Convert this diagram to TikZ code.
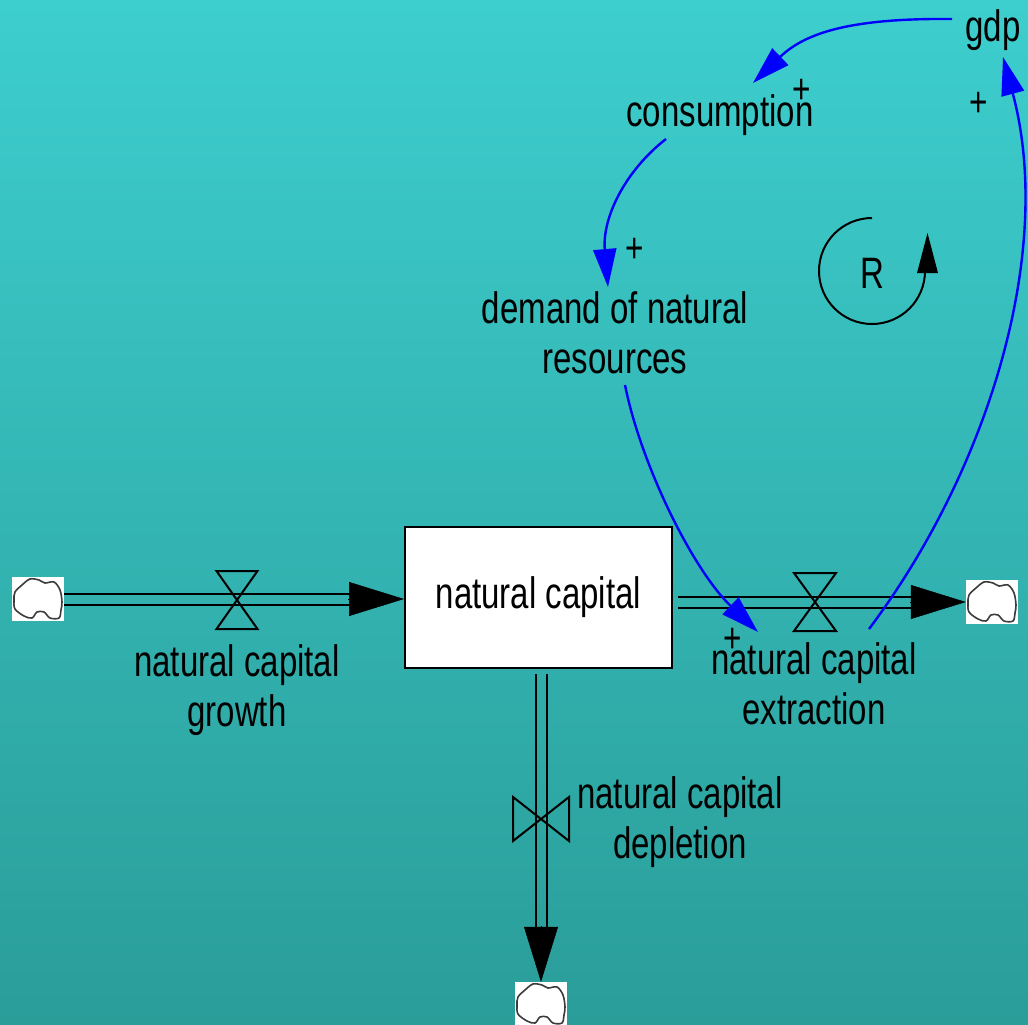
\documentclass[tikz,border=0pt]{standalone}
\usepackage{fontspec}
\setmainfont[FakeStretch=0.75]{Liberation Sans}
\usetikzlibrary{arrows.meta}
\definecolor{bgtop}{RGB}{61,206,206}
\definecolor{bgbot}{RGB}{42,157,153}
\definecolor{linkblue}{RGB}{0,0,255}
\definecolor{cloudline}{RGB}{60,60,60}
\begin{document}
\begin{tikzpicture}[x=1pt,y=-1pt,
  every node/.style={font=\fontsize{44}{50}\selectfont, inner sep=0pt},
  varlabel/.style={align=center, anchor=base},
  signlabel/.style={font=\fontsize{42}{42}\selectfont},
  link/.style={draw=linkblue, line width=2.4pt, -{Triangle[length=38pt,width=23pt]}},
  pipe/.style={draw=black, line width=2pt},
  flowtip/.style={-{Triangle[length=55pt,width=34pt]}, line width=0.5pt},
  valveline/.style={draw=black, line width=2pt, line join=miter},
  stockbox/.style={draw=black, fill=white, line width=2pt, minimum width=267pt, minimum height=141pt},
  cloudbox/.style={fill=white, minimum width=52pt, minimum height=44pt},
  vcloud/.pic={\draw[cloudline, line width=1.6pt] plot[smooth cycle, tension=0.55] coordinates {(-23,-7) (-16,-14) (-8,-20) (1,-19) (7,-16) (16,-17) (22,-9) (24,3) (23,11) (21,19) (12,19) (6,13) (-1,13) (-6,19) (-14,17) (-23,10) (-24,1)};}
]
\useasboundingbox (0,0) rectangle (1028,1025);
\shade[top color=bgtop, bottom color=bgbot] (0,0) rectangle (1028,1025);

% stock
\node[stockbox] (stock) at (538.5,597.5) {natural capital};

% clouds
\node[cloudbox] (cL) at (38,599) {};
\pic at (cL) {vcloud};
\node[cloudbox] (cR) at (992,602) {};
\pic at (cR) {vcloud};
\node[cloudbox] (cD) at (541,1004) {};
\pic at (cD) {vcloud};

% pipe end coordinates
\coordinate (lEnd) at (cL.east -| stock.west);
\coordinate (rStart) at (stock.east |- cR.west);
\coordinate (dStart) at (stock.south -| cD.north);

% flows (double pipes drawn as two parallel lines)
\draw[pipe, shorten >=53pt] ([yshift=5.5pt]cL.east) -- ([yshift=5.5pt]lEnd);
\draw[pipe, shorten >=53pt] ([yshift=-5.5pt]cL.east) -- ([yshift=-5.5pt]lEnd);
\draw[flowtip] ([xshift=-56pt]lEnd) -- (lEnd);
\draw[pipe, shorten <=5pt, shorten >=53pt] ([yshift=5.5pt]rStart) -- ([yshift=5.5pt]cR.west);
\draw[pipe, shorten <=5pt, shorten >=53pt] ([yshift=-5.5pt]rStart) -- ([yshift=-5.5pt]cR.west);
\draw[flowtip] ([xshift=-56pt]cR.west) -- (cR.west);
\draw[pipe, shorten <=5pt, shorten >=53pt] ([xshift=-5.5pt]dStart) -- ([xshift=-5.5pt]cD.north);
\draw[pipe, shorten <=5pt, shorten >=53pt] ([xshift=5.5pt]dStart) -- ([xshift=5.5pt]cD.north);
\draw[flowtip] ([yshift=56pt]cD.north) -- (cD.north);

% valves
\coordinate (vG) at (237,600);
\coordinate (vE) at (815,602);
\coordinate (vD) at (541,819);
\draw[valveline] ([shift={(-20.5,-29)}]vG) -- ([shift={(20.5,-29)}]vG) -- ([shift={(-20.5,29)}]vG) -- ([shift={(20.5,29)}]vG) -- cycle;
\draw[valveline] ([shift={(-21,-29)}]vE) -- ([shift={(21,-29)}]vE) -- ([shift={(-21,29)}]vE) -- ([shift={(21,29)}]vE) -- cycle;
\draw[valveline] ([shift={(-28,-22)}]vD) -- ([shift={(-28,22)}]vD) -- ([shift={(28,-22)}]vD) -- ([shift={(28,22)}]vD) -- cycle;

% flow labels (base anchor = baseline of last line)
\node[varlabel] (growth) at (237,726) {natural capital\\growth};
\node[varlabel] (extraction) at (814,724) {natural capital\\extraction};
\node[varlabel] (depletion) at (680,858) {natural capital\\depletion};

% auxiliaries
\node[varlabel] (gdp) at (993,42) {gdp};
\node[varlabel] (consumption) at (720,126) {consumption};
\node[varlabel] (demand) at (615,373) {demand of natural\\resources};

% link endpoints
\coordinate (gdpS) at (952,19);
\coordinate (consE) at (753,83);
\coordinate (consS) at (666,139);
\coordinate (demE) at (608,287);
\coordinate (demS) at (625,385);
\coordinate (extE) at (758,632);
\coordinate (extS) at (869,629);
\coordinate (gdpE) at (1003,57);

\draw[link] (gdpS) .. controls (850,18) and (805,33) .. (consE);
\draw[link] (consS) .. controls (626,170) and (602,217) .. (demE);
\draw[link] (demS) .. controls (641,465) and (693,570) .. (extE);
\draw[link] (extS) .. controls (989,469) and (1055,251) .. (gdpE);

% polarities
\node[signlabel] (p1) at (802,91) {+};
\node[signlabel] (p2) at (635,250) {+};
\node[signlabel] (p3) at (733,640) {+};
\node[signlabel] (p4) at (979,104) {+};

% loop
\node (R) at (872,273) {R};
\draw[line width=2pt] (872,218) arc[start angle=-90, end angle=-360, radius=53];
\fill (927.5,233) -- (917,273) -- (938,273) -- cycle;
\end{tikzpicture}
\end{document}
